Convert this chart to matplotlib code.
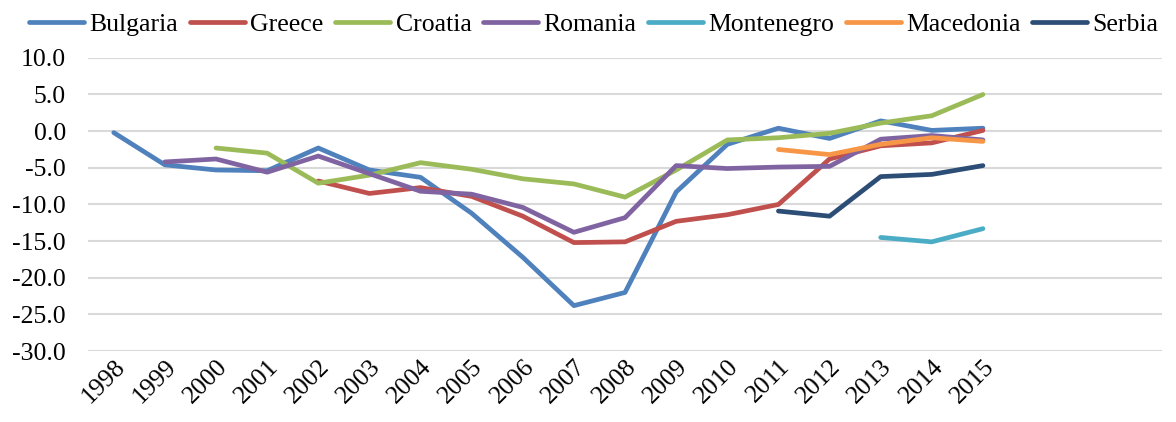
import numpy as np
import matplotlib as mpl
mpl.use('Agg')
from matplotlib import pyplot as plt

plt.rcParams['font.family'] = ['Liberation Serif', 'DejaVu Serif']
plt.rcParams['axes.unicode_minus'] = False

nan = np.nan

# years on the category axis
years = list(range(1998, 2016))

# values (nan = no data)
bulgaria = [-0.2, -4.6, -5.3, -5.4, -2.3, -5.3, -6.3, -11.2, -17.2, -23.8, -22.0,
            -8.3, -1.8, 0.4, -1.0, 1.4, 0.1, 0.4]
greece = [nan, nan, nan, nan, -6.8, -8.5, -7.7, -8.9, -11.6, -15.2, -15.1,
          -12.3, -11.4, -10.0, -3.8, -2.0, -1.6, 0.1]
croatia = [nan, nan, -2.3, -3.0, -7.1, -6.0, -4.3, -5.2, -6.5, -7.2, -9.0,
           -5.3, -1.2, -0.9, -0.3, 1.1, 2.1, 5.0]
romania = [nan, -4.2, -3.8, -5.6, -3.4, -5.8, -8.2, -8.6, -10.4, -13.8, -11.8,
           -4.7, -5.1, -4.9, -4.8, -1.1, -0.6, -1.2]
montenegro = [nan] * 15 + [-14.5, -15.1, -13.3]
macedonia = [nan] * 13 + [-2.5, -3.2, -1.8, -0.9, -1.4]
serbia = [nan] * 13 + [-10.9, -11.6, -6.2, -5.9, -4.7]

series = [('Bulgaria', bulgaria, '#4F81BD'),
          ('Greece', greece, '#C0504D'),
          ('Croatia', croatia, '#9BBB59'),
          ('Romania', romania, '#8064A2'),
          ('Montenegro', montenegro, '#4BACC6'),
          ('Macedonia', macedonia, '#F79646'),
          ('Serbia', serbia, '#2C4D75')]

fig = plt.figure(figsize=(11.76, 4.22), dpi=100)
ax = fig.add_axes([0.075, 0.168, 0.913, 0.695])

x = np.arange(len(years))
for name, vals, col in series:
    ax.plot(x, vals, color=col, lw=3.4, label=name, solid_capstyle='round')

ax.set_ylim(-30, 10)
ax.set_yticks(np.arange(-30, 10.1, 5))
ax.yaxis.set_major_formatter(mpl.ticker.FormatStrFormatter('%.1f'))
ax.set_xlim(-0.5, 20.5)
ax.set_xticks(x)
ax.set_xticklabels([str(y) for y in years], rotation=45, ha='right',
                   rotation_mode='anchor')
ax.tick_params(length=0, labelsize=18.5)
ax.tick_params(axis='y', pad=16)
ax.tick_params(axis='x', pad=3)
ax.grid(axis='y', color='#D9D9D9', lw=1.5)
ax.set_axisbelow(True)
for s in ax.spines.values():
    s.set_visible(False)

fig.legend(loc='upper center', bbox_to_anchor=(0.505, 1.025), ncol=7,
           frameon=False, fontsize=18.5, handlelength=2.15, handletextpad=0.2,
           columnspacing=0.45)

plt.savefig('out.png', dpi=100)
